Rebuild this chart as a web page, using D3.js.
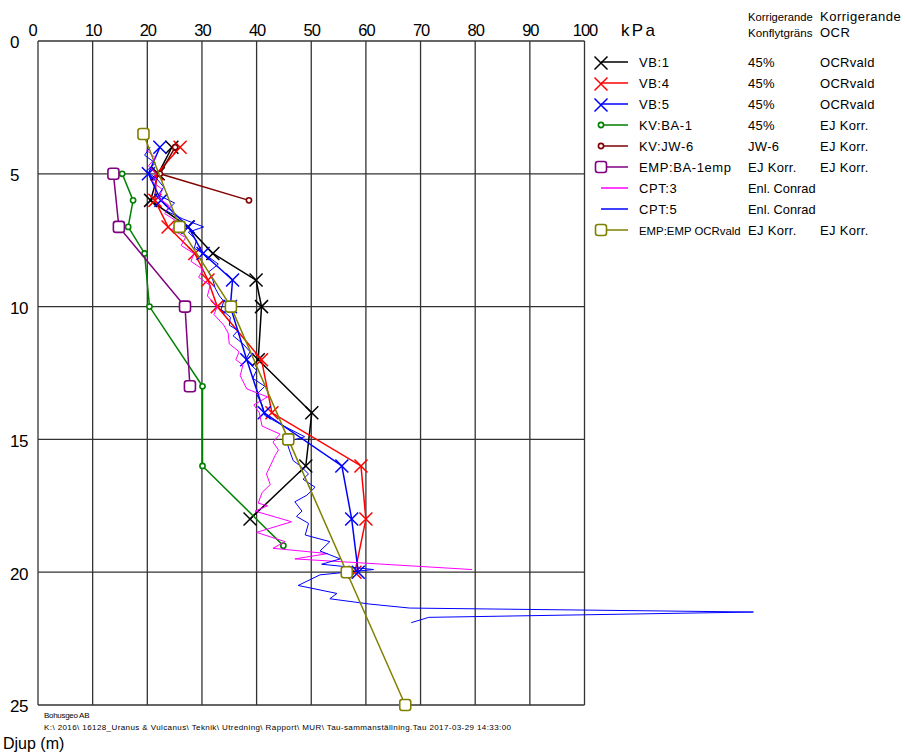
<!DOCTYPE html>
<html>
<head>
<meta charset="utf-8">
<script src="https://cdn.jsdelivr.net/npm/d3@7/dist/d3.min.js"></script>
<style>
  html, body { margin: 0; padding: 0; background: #fff; }
  svg { display: block; font-family: "Liberation Sans", Arial, sans-serif; }
</style>
</head>
<body>
<svg id="chart" width="905" height="752"></svg>
<script>
// Axis ticks
const xTicks = [0, 10, 20, 30, 40, 50, 60, 70, 80, 90, 100];
const yTicks = [0, 5, 10, 15, 20, 25];

// Vane tests (kPa vs depth m)
const vb1Depth = [4, 5, 6, 7, 8, 9, 10, 12, 14, 16, 18];
const vb1Val   = [24.5, 22, 20.6, 27.4, 32, 39.9, 40.9, 40.3, 50.1, 49, 38.8];

const vb4Depth = [4, 5, 6, 7, 8, 9, 10, 12, 14, 16, 18, 20];
const vb4Val   = [26, 21.7, 21.4, 23.8, 28.7, 31.1, 32.8, 40.9, 42.8, 59.1, 60, 58];

const vb5Depth = [4, 5, 6, 7, 8, 9, 10, 12, 14, 16, 18, 20];
const vb5Val   = [22.3, 20.2, 22.5, 27.5, 30.2, 35.6, 35.2, 38.2, 41.4, 55.6, 57.4, 58.6];

// Fall cone tests
const ba1Depth = [5, 6, 7, 8, 10, 13, 16, 19];
const ba1Val   = [15.4, 17.4, 16.5, 19.5, 20.4, 30.1, 30.1, 44.9];

const jw6Depth = [4, 5, 6];
const jw6Val   = [25.1, 22.3, 38.6];

// Empirical estimates
const ba1empDepth = [5, 7, 10, 13];
const ba1empVal   = [13.8, 14.8, 26.9, 27.8];

const empOcrDepth = [3.5, 7, 10, 15, 20, 25];
const empOcrVal   = [19.3, 25.9, 35.3, 45.8, 56.5, 67.2];

// CPT soundings
const cpt3Depth = [4.1, 4.4, 4.7, 5.0, 5.3, 5.6, 5.9, 6.2, 6.5, 6.8, 7.1, 7.4, 7.7, 8.0, 8.3, 8.6, 8.9, 9.2, 9.6,
  10.0, 10.3, 10.7, 11.0, 11.4, 11.7, 12.0, 12.2, 12.6, 13.1, 13.4, 13.7, 14.0, 14.5, 14.8, 15.1, 15.4, 15.6,
  16.0, 16.3, 16.7, 17.0, 17.4, 17.5, 17.7, 18.1, 18.5, 18.85, 19.1, 19.3, 19.5, 19.9];
const cpt3Val = [19.8, 21.5, 20.2, 21.6, 21.0, 22.8, 22.0, 24.0, 23.2, 25.5, 24.6, 27.0, 26.2, 28.5, 28.0, 30.2, 29.4, 31.5, 31.0,
  32.8, 32.2, 34.0, 34.8, 35.0, 36.8, 36.2, 37.5, 37.0, 38.2, 42.0, 39.5, 40.5, 41.0, 44.3, 43.0, 44.0, 43.4,
  42.5, 41.8, 42.5, 41.0, 40.3, 42.0, 39.7, 46.4, 40.0, 45.2, 43.0, 53.0, 47.0, 79.4];

const cpt5Depth = [4.0, 4.3, 4.6, 4.9, 5.2, 5.5, 5.8, 6.1, 6.4, 6.7, 7.0, 7.2, 7.5, 7.8, 8.1, 8.4, 8.7, 9.0, 9.3, 9.6, 9.8,
  10.1, 10.4, 10.7, 10.9, 11.1, 11.4, 11.7, 12.0, 12.4, 12.7, 13.0, 13.3, 13.7, 14.1, 14.5, 14.9, 15.1, 15.4, 15.8,
  16.0, 16.3, 16.5, 16.8, 17.1, 17.35, 17.7, 17.9, 18.16, 18.6, 18.85, 19.2, 19.5, 19.7, 19.9, 20.1, 20.5, 20.8,
  21.0, 21.2, 21.35, 21.5, 21.7, 21.9];
const cpt5Val = [20.5, 19.5, 21.5, 19.8, 21.8, 23.0, 22.0, 25.0, 23.5, 26.5, 30.3, 27.5, 29.0, 28.6, 31.0, 33.0, 31.2, 32.0, 32.4, 33.2, 34.0,
  33.5, 35.2, 35.0, 36.6, 35.7, 37.5, 38.8, 38.0, 40.0, 39.3, 41.5, 40.0, 41.0, 41.5, 45.0, 48.8, 45.5, 46.0, 46.7,
  48.0, 49.5, 48.5, 50.7, 49.2, 47.0, 48.3, 47.3, 49.5, 48.9, 53.4, 51.6, 55.3, 51.9, 61.4, 51.6, 47.6, 54.7,
  53.4, 60.7, 68.0, 130.9, 71.5, 68.3];

// Legend texts
const legendNames = ["VB:1", "VB:4", "VB:5", "KV:BA-1", "KV:JW-6", "EMP:BA-1emp", "CPT:3", "CPT:5", "EMP:EMP OCRvald"];
const legendCol1  = ["45%", "45%", "45%", "45%", "JW-6", "EJ Korr.", "Enl. Conrad", "Enl. Conrad", "EJ Korr."];
const legendCol2  = ["OCRvald", "OCRvald", "OCRvald", "EJ Korr.", "EJ Korr.", "EJ Korr.", "", "", "EJ Korr."];
const headerCol1  = ["Korrigerande", "Konflytgräns"];
const headerCol2  = ["Korrigerande", "OCR"];

const series = [
  { depth: vb1Depth, val: vb1Val, color: "#000000", marker: "x", width: 1.5 },
  { depth: vb4Depth, val: vb4Val, color: "#ff0000", marker: "x", width: 1.5 },
  { depth: vb5Depth, val: vb5Val, color: "#0000ff", marker: "x", width: 1.5 },
  { depth: ba1Depth, val: ba1Val, color: "#008000", marker: "circle", width: 1.5 },
  { depth: jw6Depth, val: jw6Val, color: "#800000", marker: "circle", width: 1.5 },
  { depth: ba1empDepth, val: ba1empVal, color: "#800080", marker: "square", width: 1.5 },
  { depth: cpt3Depth, val: cpt3Val, color: "#ff00ff", marker: null, width: 1 },
  { depth: cpt5Depth, val: cpt5Val, color: "#0000ff", marker: null, width: 1 },
  { depth: empOcrDepth, val: empOcrVal, color: "#808000", marker: "square", width: 1.5 }
];

const svg = d3.select("#chart");
const x = d3.scaleLinear().domain([0, 100]).range([38, 584.5]);
const y = d3.scaleLinear().domain([0, 25]).range([41, 705]);

// Grid
const grid = svg.append("g").attr("stroke", "#333").attr("stroke-width", 1.3);
grid.selectAll("line.v").data(xTicks).join("line")
  .attr("x1", d => x(d)).attr("x2", d => x(d))
  .attr("y1", y(0)).attr("y2", y(25));
grid.selectAll("line.h").data(yTicks).join("line")
  .attr("x1", x(0)).attr("x2", x(100))
  .attr("y1", d => y(d)).attr("y2", d => y(d));

// Tick labels (x on top, depth on the left)
const xAxis = svg.append("g").attr("transform", `translate(0,${y(0)})`)
  .call(d3.axisTop(x).tickValues(xTicks).tickSize(0).tickPadding(5).tickFormat(d3.format("d")));
xAxis.select(".domain").remove();
xAxis.selectAll("text")
  .attr("font-size", 16.5).attr("fill", "#000").attr("letter-spacing", -1)
  .attr("font-family", "'Liberation Sans', Arial, sans-serif")
  .attr("dx", d => d === 0 ? -6 : 0);

const yAxis = svg.append("g").attr("transform", "translate(10,0)")
  .call(d3.axisRight(y).tickValues(yTicks).tickSize(0).tickPadding(0).tickFormat(d3.format("d")));
yAxis.select(".domain").remove();
yAxis.selectAll("text")
  .attr("font-size", 17).attr("fill", "#000").attr("letter-spacing", -0.5)
  .attr("font-family", "'Liberation Sans', Arial, sans-serif")
  .attr("dy", "0.4em");

svg.append("text").attr("x", 621).attr("y", 36).attr("font-size", 17)
  .attr("textLength", 34).attr("lengthAdjust", "spacing").text("kPa");

// Markers
function drawMarker(g, type, color, cx, cy) {
  if (type === "x") {
    g.append("path").attr("d", `M${cx - 6.5},${cy - 6.5}L${cx + 6.5},${cy + 6.5}M${cx - 6.5},${cy + 6.5}L${cx + 6.5},${cy - 6.5}`)
      .attr("stroke", color).attr("stroke-width", 1.5).attr("fill", "none");
  } else if (type === "circle") {
    g.append("circle").attr("cx", cx).attr("cy", cy).attr("r", 2.6)
      .attr("stroke", color).attr("stroke-width", 1.6).attr("fill", "#fff");
  } else if (type === "square") {
    g.append("rect").attr("x", cx - 5.5).attr("y", cy - 5.5).attr("width", 11).attr("height", 11)
      .attr("rx", 2.5).attr("stroke", color).attr("stroke-width", 1.6).attr("fill", "#fff");
  }
}

const line = d3.line().x(d => x(d[1])).y(d => y(d[0]));
const plot = svg.append("g");
series.forEach(s => {
  const pts = s.depth.map((d, i) => [d, s.val[i]]);
  const g = plot.append("g");
  g.append("path").datum(pts).attr("d", line)
    .attr("fill", "none").attr("stroke", s.color).attr("stroke-width", s.width)
    .attr("stroke-linejoin", "miter");
  if (s.marker) pts.forEach(p => drawMarker(g, s.marker, s.color, x(p[1]), y(p[0])));
});

// Legend: three text columns; long entries get a smaller font so they fit their column
const colName = 639, col1 = 748, col2 = 820;
const legendFont = 13;
const legend = svg.append("g").attr("font-size", legendFont).attr("fill", "#000").attr("letter-spacing", 0.5);

function fitText(sel, maxW) {
  const node = sel.node();
  if (node.getComputedTextLength() > maxW) {
    sel.attr("letter-spacing", 0);
    const w = node.getComputedTextLength();
    if (w > maxW) sel.attr("font-size", Math.floor(legendFont * maxW / w * 10) / 10);
  }
  return sel;
}

headerCol1.forEach((t, i) => fitText(legend.append("text").attr("x", col1).attr("y", 21 + i * 16).text(t), col2 - col1 - 7));
headerCol2.forEach((t, i) => legend.append("text").attr("x", col2).attr("y", 21 + i * 16).text(t));

const rowY = d3.scaleLinear().domain([0, 8]).range([62, 230]);
series.forEach((s, i) => {
  const cy = rowY(i);
  const g = legend.append("g");
  g.append("line").attr("x1", 601).attr("x2", 628).attr("y1", cy).attr("y2", cy)
    .attr("stroke", s.color).attr("stroke-width", 1.5);
  if (s.marker) drawMarker(g, s.marker, s.color, 601, cy + (s.marker === "x" ? 1 : 0));
  fitText(g.append("text").attr("x", colName).attr("y", cy + 5).attr("letter-spacing", 0.6)
    .text(legendNames[i]), col1 - colName - 7);
  fitText(g.append("text").attr("x", col1).attr("y", cy + 5).attr("letter-spacing", 0.3)
    .text(legendCol1[i]), col2 - col1 - 4);
  g.append("text").attr("x", col2).attr("y", cy + 5).attr("letter-spacing", 0.3).text(legendCol2[i]);
});

// Footer
svg.append("text").attr("x", 44).attr("y", 718).attr("font-size", 8).attr("letter-spacing", -0.3).text("Bohusgeo AB");
svg.append("text").attr("x", 44).attr("y", 730).attr("font-size", 8)
  .attr("textLength", 467).attr("lengthAdjust", "spacing")
  .text("K:\\ 2016\\ 16128_Uranus & Vulcanus\\ Teknik\\ Utredning\\ Rapport\\ MUR\\ Tau-sammanställning.Tau 2017-03-29 14:33:00");
svg.append("text").attr("x", 3).attr("y", 749).attr("font-size", 16).text("Djup (m)");
</script>
</body>
</html>
